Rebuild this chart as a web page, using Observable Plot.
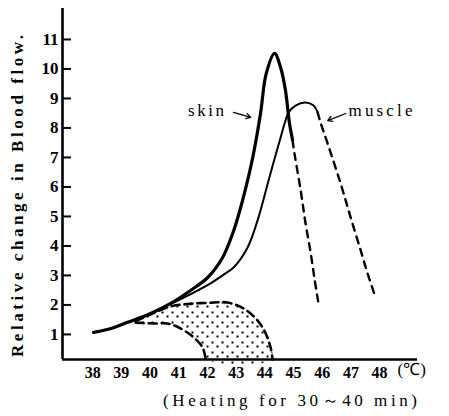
<!DOCTYPE html>
<html>
<head>
<meta charset="utf-8">
<script src="https://cdn.jsdelivr.net/npm/d3@7"></script>
<script src="https://cdn.jsdelivr.net/npm/@observablehq/plot@0.6"></script>
<style>
  html, body { margin: 0; padding: 0; background: #fff; overflow: hidden; }
  svg { display: block; }
</style>
</head>
<body>
<div id="chart"></div>
<script>
// ---- data ----
const xTicks = [38, 39, 40, 41, 42, 43, 44, 45, 46, 47, 48];
const yTicks = [1, 2, 3, 4, 5, 6, 7, 8, 9, 10, 11];
const xDomain = [36.95, 49.32];
const yDomain = [0.15, 12.05];

const skinX = [38.03, 38.7, 39.22, 40.0, 40.72, 41.41, 42.01, 42.53, 42.88, 43.16, 43.40, 43.60, 43.85, 44.05, 44.34, 44.55, 44.72, 44.86, 44.97];
const skinY = [1.07, 1.22, 1.41, 1.70, 2.05, 2.49, 2.93, 3.61, 4.42, 5.31, 6.22, 7.10, 8.49, 9.85, 10.53, 10.05, 9.27, 8.15, 7.58];
const skinDashX = [44.97, 45.0, 45.25, 45.42, 45.60, 45.74, 45.87];
const skinDashY = [7.58, 7.34, 5.88, 4.76, 3.75, 2.83, 2.05];

const muscleX = [38.03, 38.7, 39.22, 40.0, 40.82, 41.52, 42.11, 42.63, 42.91, 43.40, 43.78, 44.13, 44.55, 44.72, 44.83, 45.07, 45.42, 45.70, 45.84];
const muscleY = [1.07, 1.22, 1.41, 1.70, 2.08, 2.42, 2.73, 3.07, 3.27, 3.95, 4.97, 6.22, 7.68, 8.25, 8.53, 8.76, 8.86, 8.76, 8.53];
const muscleDashX = [45.84, 45.94, 46.19, 46.64, 46.99, 47.34, 47.58, 47.86];
const muscleDashY = [8.53, 8.19, 7.47, 6.12, 4.97, 3.85, 3.07, 2.25];

const zoneOuterX = [39.5, 40.02, 40.72, 41.31, 42.01, 42.70, 43.26, 43.75, 44.03, 44.20, 44.27];
const zoneOuterY = [1.45, 1.68, 1.95, 2.03, 2.07, 2.08, 1.88, 1.47, 1.03, 0.56, 0.15];
const zoneInnerX = [39.5, 40.13, 40.61, 41.07, 41.52, 41.83, 41.94];
const zoneInnerY = [1.40, 1.37, 1.37, 1.20, 0.90, 0.56, 0.15];

const labelNames = ["skin", "muscle"];
const labelX = [41.95, 48.03];
const labelY = [8.6, 8.6];
const arrowX1 = [42.91, 46.82];
const arrowY1 = [8.53, 8.49];
const arrowX2 = [43.51, 46.19];
const arrowY2 = [8.36, 8.25];

const yLabel = "Relative change in Blood flow.";
const unitLabel = "(℃)";
const caption = "(Heating for 30～40 min)";

// ---- build ----
const pts = (xs, ys) => xs.map((x, i) => ({x, y: ys[i]}));
const zonePolygon = [...pts(zoneOuterX, zoneOuterY), ...pts(zoneInnerX, zoneInnerY).reverse()];
const labels = labelNames.map((t, i) => ({t, x: labelX[i], y: labelY[i]}));
const arrows = labelNames.map((t, i) => ({x1: arrowX1[i], y1: arrowY1[i], x2: arrowX2[i], y2: arrowY2[i]}));

const svg = Plot.plot({
  width: 449,
  height: 416,
  marginLeft: 62,
  marginRight: 32,
  marginTop: 8,
  marginBottom: 57,
  style: {fontFamily: "'Liberation Serif', serif", fontSize: "16px", color: "#000", background: "#fff"},
  x: {domain: xDomain},
  y: {domain: yDomain},
  marks: [
    Plot.line(zonePolygon, {x: "x", y: "y", fill: "url(#stipple)", stroke: "none", curve: "catmull-rom"}),
    Plot.line(pts(zoneOuterX, zoneOuterY), {x: "x", y: "y", stroke: "#000", strokeWidth: 2.6, strokeDasharray: "8,5", curve: "catmull-rom"}),
    Plot.line(pts(zoneInnerX, zoneInnerY), {x: "x", y: "y", stroke: "#000", strokeWidth: 2.6, strokeDasharray: "8,5", curve: "catmull-rom"}),
    Plot.line(pts(muscleX, muscleY), {x: "x", y: "y", stroke: "#000", strokeWidth: 2, curve: "catmull-rom"}),
    Plot.line(pts(muscleDashX, muscleDashY), {x: "x", y: "y", stroke: "#000", strokeWidth: 2.4, strokeDasharray: "7,6", curve: "catmull-rom"}),
    Plot.line(pts(skinX, skinY), {x: "x", y: "y", stroke: "#000", strokeWidth: 3.2, curve: "catmull-rom"}),
    Plot.line(pts(skinDashX, skinDashY), {x: "x", y: "y", stroke: "#000", strokeWidth: 2.4, strokeDasharray: "7,6", curve: "catmull-rom"}),
    Plot.text(labels, {x: "x", y: "y", text: "t", fontSize: 17}),
    Plot.arrow(arrows, {x1: "x1", y1: "y1", x2: "x2", y2: "y2", stroke: "#000", strokeWidth: 1.3, headLength: 6}),
    Plot.ruleX([xDomain[0]], {stroke: "#000", strokeWidth: 2.6}),
    Plot.ruleY([yDomain[0]], {stroke: "#000", strokeWidth: 2.6}),
    Plot.axisY({ticks: yTicks, tickSize: -9, tickPadding: 13, strokeWidth: 2, fontSize: 17, fontWeight: "bold"}),
    Plot.axisX({ticks: xTicks, tickSize: 0, tickPadding: 7, fontSize: 16, fontWeight: "bold"}),
    Plot.text([unitLabel], {frameAnchor: "bottom-right", textAnchor: "start", dx: -20, dy: 15, fontSize: 17}),
    Plot.text([caption], {frameAnchor: "bottom", textAnchor: "middle", dx: 50, dy: 46, fontSize: 17}),
    Plot.text([yLabel], {frameAnchor: "left", textAnchor: "middle", rotate: -90, dx: -45, dy: 12, fontSize: 17, fontWeight: "bold"})
  ]
});

svg.insertAdjacentHTML("afterbegin",
  `<defs><pattern id="stipple" width="10" height="10" patternUnits="userSpaceOnUse">
     <rect x="1" y="1" width="2" height="2" fill="#000"/>
     <rect x="6" y="5" width="2" height="2" fill="#000"/>
   </pattern></defs>`);

// stretch spaced-out texts to the widths they have in the reference
const widths = new Map([[yLabel, 322], [caption, 254], ["muscle", 64], ["skin", 36]]);
d3.select(svg).selectAll("text").each(function () {
  const w = widths.get(this.textContent);
  if (w) { this.setAttribute("textLength", w); this.setAttribute("lengthAdjust", "spacing"); }
});

document.getElementById("chart").appendChild(svg);
</script>
</body>
</html>
